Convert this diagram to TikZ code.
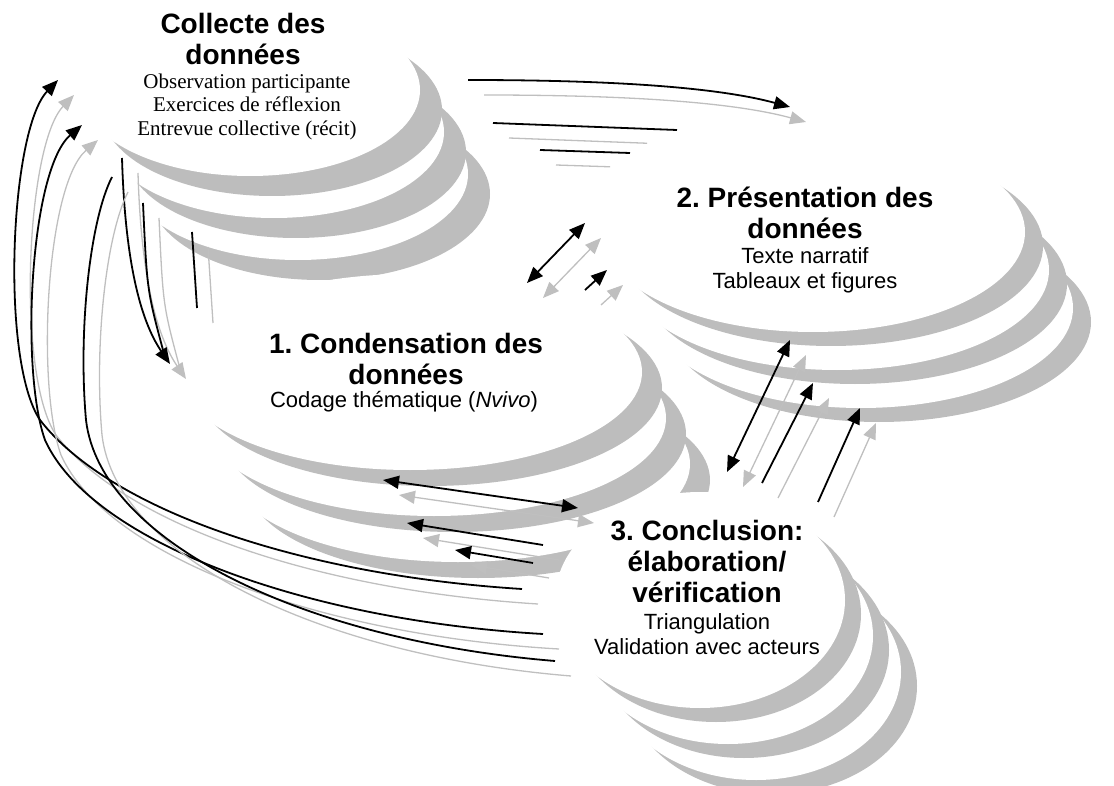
\documentclass[tikz,border=0pt]{standalone}
\usepackage{fontspec}
\setmainfont{Liberation Sans}
\newfontfamily\timesfont{Liberation Serif}
\usetikzlibrary{calc,arrows.meta}
\frenchspacing

\begin{document}
\begin{tikzpicture}[x=1pt, y=-1pt,
    band/.style={fill=gray!52},
    ttl/.style={font=\bfseries\fontsize{28}{31}\selectfont, align=center, inner sep=0pt, anchor=north},
    sub/.style={font=\fontsize{22}{25}\selectfont, align=center, inner sep=0pt, anchor=north},
    tms/.style={font=\timesfont\fontsize{21}{23.5}\selectfont, align=center, inner sep=0pt, anchor=north},
    wire/.style={line width=1.8pt},
    link/.style={wire, -{Triangle[length=16pt,width=13pt]}},
    twin/.style={wire, {Triangle[length=16pt,width=13pt]}-{Triangle[length=16pt,width=13pt]}},
    ghost/.style={draw=gray!50, line width=1.3pt, transform canvas={shift={(16pt,-15pt)}}}]

    \useasboundingbox (0,0) rectangle (1114,786);
    \clip (0,0) rectangle (1114,786);

    % Define the centres of the four ellipses
    \coordinate (coll) at (250,90);
    \coordinate (pres) at (813,232);
    \coordinate (cond) at (410,372);
    \coordinate (conc) at (700,600);

    % Draw each ellipse with its three grey layers (back to front)
    \foreach \k in {2,1,0} {
        \fill[band] ($(coll)+\k*(24,42)+(22,20)$) ellipse [x radius=170, y radius=86];
        \fill[white] ($(coll)+\k*(24,42)$) ellipse [x radius=170, y radius=86];
    }
    \foreach \k in {2,1,0} {
        \fill[band] ($(pres)+\k*(24,38)+(18,14)$) ellipse [x radius=212, y radius=100];
        \fill[white] ($(pres)+\k*(24,38)$) ellipse [x radius=212, y radius=100];
    }
    \foreach \k in {2,1,0} {
        \fill[band] ($(cond)+\k*(24,46)+(20,16)$) ellipse [x radius=232, y radius=98];
        \fill[white] ($(cond)+\k*(24,46)$) ellipse [x radius=232, y radius=98];
    }
    \foreach \k in {2,1,0} {
        \fill[band] ($(conc)+\k*(28,36)+(16,14)$) ellipse [x radius=145, y radius=108];
        \fill[white] ($(conc)+\k*(28,36)$) ellipse [x radius=145, y radius=108];
    }

    % Define the ends of the connectors
    \coordinate (cpA) at (468,80);   \coordinate (cpB) at (790,107);
    \coordinate (cpC) at (493,123);  \coordinate (cpD) at (677,130);
    \coordinate (cpE) at (540,150);  \coordinate (cpF) at (630,153);
    \coordinate (dp1) at (527,283);  \coordinate (dp2) at (585,223);
    \coordinate (dp3) at (585,290);  \coordinate (dp4) at (607,270);
    \coordinate (ccA) at (122,158);  \coordinate (ccB) at (170,364);
    \coordinate (ccC) at (143,203);  \coordinate (ccD) at (163,350);
    \coordinate (ccE) at (192,232);  \coordinate (ccF) at (197,308);
    \coordinate (lpA1) at (522,589); \coordinate (lpB1) at (58,80);
    \coordinate (lpA2) at (543,634); \coordinate (lpB2) at (82,125);
    \coordinate (lpA3) at (555,661); \coordinate (lpB3) at (112,177);
    \coordinate (dc1) at (383,480);  \coordinate (dc2) at (578,508);
    \coordinate (dc3) at (543,545);  \coordinate (dc4) at (407,523);
    \coordinate (dc5) at (533,563);  \coordinate (dc6) at (455,550);
    \coordinate (cq1) at (727,472);  \coordinate (cq2) at (790,340);
    \coordinate (cq3) at (762,483);  \coordinate (cq4) at (813,383);
    \coordinate (cq5) at (818,502);  \coordinate (cq6) at (860,408);

    % Collecte -> Presentation
    \draw[link, ghost] (cpA) .. controls (620,80) and (720,88) .. (cpB);
    \draw[link] (cpA) .. controls (620,80) and (720,88) .. (cpB);
    \draw[wire, ghost, shorten >=46pt] (cpC) -- (cpD);
    \draw[wire] (cpC) -- (cpD);
    \draw[wire, ghost, shorten >=36pt] (cpE) -- (cpF);
    \draw[wire] (cpE) -- (cpF);

    % Condensation <-> Presentation
    \draw[twin, ghost] (dp1) -- (dp2);
    \draw[twin] (dp1) -- (dp2);
    \draw[link, ghost] (dp3) -- (dp4);
    \draw[link] (dp3) -- (dp4);

    % Collecte -> Condensation
    \draw[link, ghost] (ccA) .. controls (125,260) and (140,320) .. (ccB);
    \draw[link] (ccA) .. controls (125,260) and (140,320) .. (ccB);
    \draw[wire, ghost] (ccC) .. controls (147,290) .. (ccD);
    \draw[wire] (ccC) .. controls (147,290) .. (ccD);
    \draw[wire, ghost] (ccE) -- (ccF);
    \draw[wire] (ccE) -- (ccF);

    % Conclusion -> Collecte (long loops on the left)
    \draw[link, ghost] (lpA1) .. controls (300,575) and (110,510) .. (40,420) .. controls (0,360) and (10,130) .. (lpB1);
    \draw[link] (lpA1) .. controls (300,575) and (110,510) .. (40,420) .. controls (0,360) and (10,130) .. (lpB1);
    \draw[link, ghost] (lpA2) .. controls (300,620) and (90,540) .. (45,440) .. controls (20,370) and (30,170) .. (lpB2);
    \draw[link] (lpA2) .. controls (300,620) and (90,540) .. (45,440) .. controls (20,370) and (30,170) .. (lpB2);
    \draw[wire, ghost] (lpA3) .. controls (300,640) and (100,540) .. (86,420) .. controls (78,330) and (90,220) .. (lpB3);
    \draw[wire] (lpA3) .. controls (300,640) and (100,540) .. (86,420) .. controls (78,330) and (90,220) .. (lpB3);

    % Condensation <-> Conclusion
    \draw[twin, ghost] (dc1) -- (dc2);
    \draw[twin] (dc1) -- (dc2);
    \draw[link, ghost] (dc3) -- (dc4);
    \draw[link] (dc3) -- (dc4);
    \draw[link, ghost] (dc5) -- (dc6);
    \draw[link] (dc5) -- (dc6);

    % Conclusion <-> Presentation
    \draw[twin, ghost] (cq1) -- (cq2);
    \draw[twin] (cq1) -- (cq2);
    \draw[link, ghost] (cq3) -- (cq4);
    \draw[link] (cq3) -- (cq4);
    \draw[link, ghost] (cq5) -- (cq6);
    \draw[link] (cq5) -- (cq6);

    % Add Labels
    \node[ttl] (colltitle) at (243,13) {Collecte des\\données};
    \node[tms] (colltext) at (247,73.5) {Observation participante\\Exercices de réflexion\\Entrevue collective (récit)};
    \node[ttl] (prestitle) at (805,187) {2. Présentation des\\données};
    \node[sub] (prestext) at (805,247) {Texte narratif\\Tableaux et figures};
    \node[ttl] (condtitle) at (406,333) {1. Condensation des\\données};
    \node[sub] (condtext) at (404,391) {Codage thématique (\textit{Nvivo})};
    \node[ttl] (conctitle) at (707,520) {3. Conclusion:\\élaboration/\\vérification};
    \node[sub] (conctext) at (707,613) {Triangulation\\Validation avec acteurs};

\end{tikzpicture}
\end{document}
